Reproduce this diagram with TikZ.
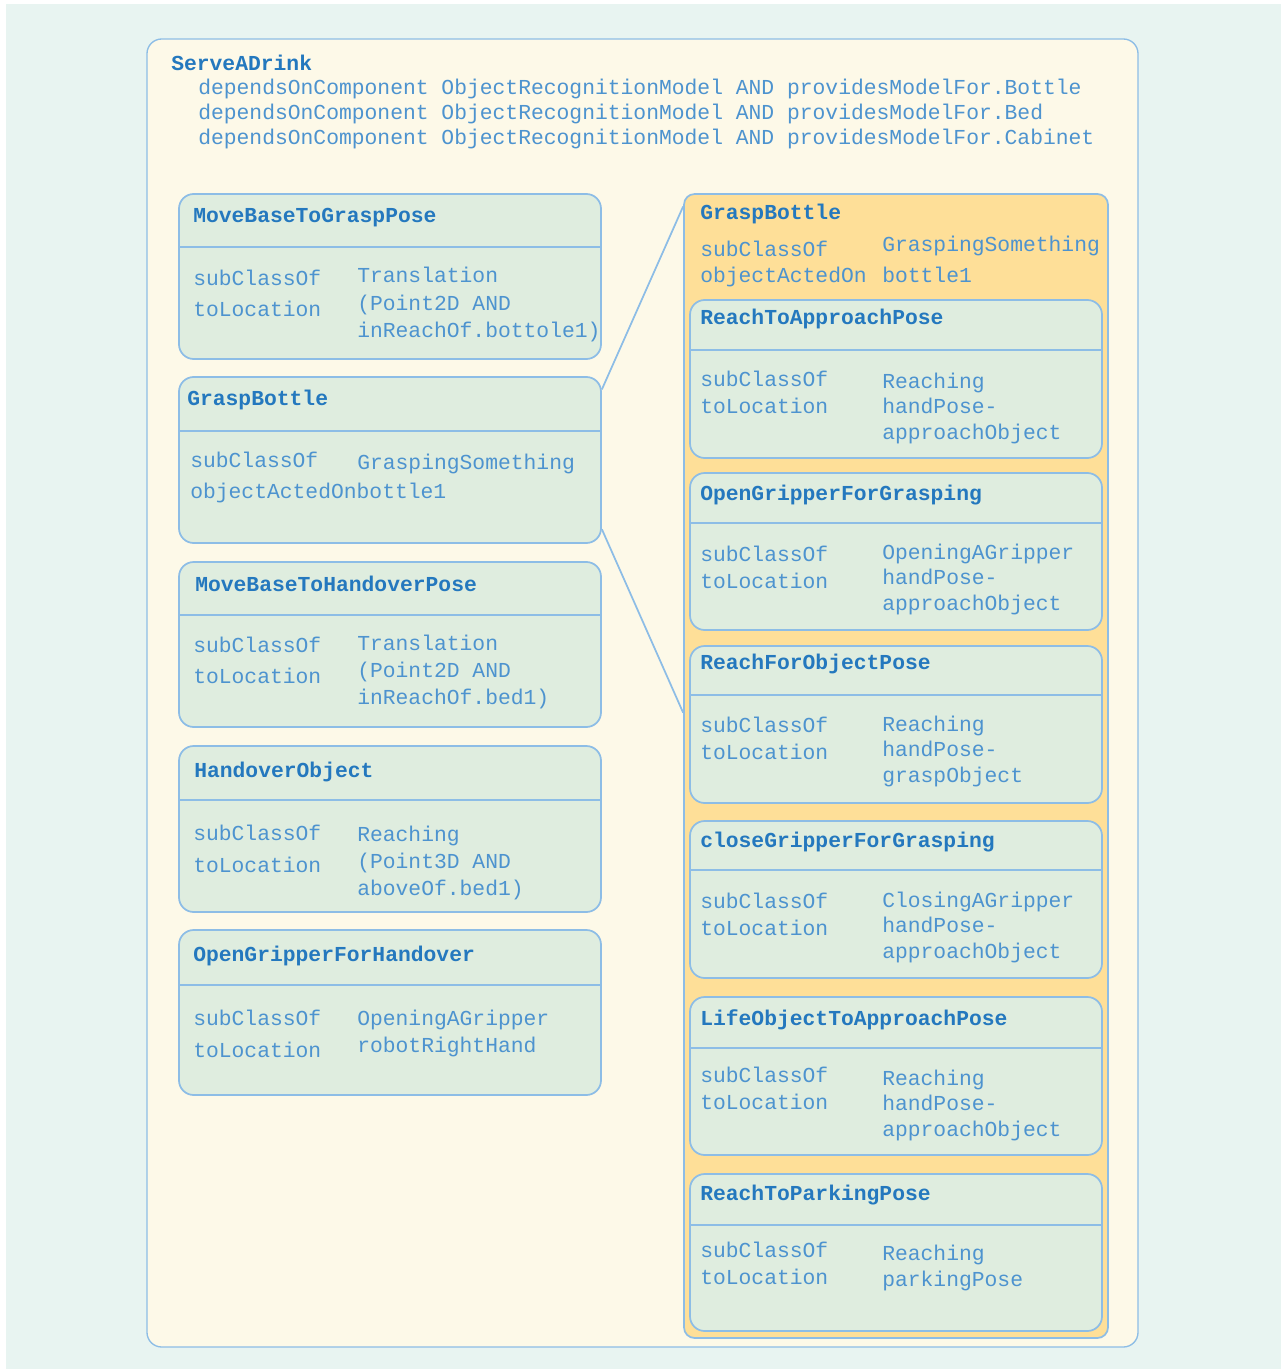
\documentclass[tikz,border=0pt]{standalone}
\usepackage{xcolor}
\usepackage{fontspec}
\setmonofont{Liberation Mono}
\usepackage{tikz}
\usetikzlibrary{fit}

\definecolor{pagebg}{HTML}{E8F4F1}
\definecolor{cream}{HTML}{FDF9E8}
\definecolor{boxgreen}{HTML}{DFEDDF}
\definecolor{groupgold}{HTML}{FEDF98}
\definecolor{edgeblue}{HTML}{8DBDE6}
\definecolor{titleblue}{HTML}{2478BE}
\definecolor{textblue}{HTML}{4D93CF}

\begin{document}
\begin{tikzpicture}[
	  x=0.75pt, y=-0.75pt,
	  font=\ttfamily\fontsize{16}{19}\selectfont,
	  panel/.style={draw=edgeblue, line width=1pt, fill=cream, rounded corners=11pt},
	  cls/.style={
	    draw=edgeblue,
	    line width=1.3pt,
	    fill=boxgreen,
	    rounded corners=11pt,
	    inner sep=0pt
	  },
	  group/.style={draw=edgeblue, line width=1.3pt, fill=groupgold, rounded corners=8pt, inner sep=0pt},
	  divider/.style={edgeblue, line width=1.3pt},
	  ttl/.style={anchor=base west, inner sep=0pt, text=titleblue, font=\ttfamily\bfseries\fontsize{16}{19}\selectfont},
	  prop/.style={anchor=base west, inner sep=0pt, text=textblue, align=left, font=\ttfamily\fontsize{16}{#1}\selectfont},
	  prop/.default=20pt,
	  link/.style={edgeblue, line width=1.3pt}
	]
	
	\useasboundingbox (0,0) rectangle (1281,1369);
	\fill[white] (0,0) rectangle (1281,1369);
	\fill[pagebg] (6,4) rectangle (1281,1369);
	
	% task (multi-line nodes sit on their last baseline)
	\node[panel, fit={(147,39) (1138,1347)}, inner sep=0pt] (task) {};
	\node[ttl] (task-name) at (171,71) {ServeADrink};
	\node[prop=18.75pt] (task-deps) at (198,145) {dependsOnComponent ObjectRecognitionModel AND providesModelFor.Bottle\\dependsOnComponent ObjectRecognitionModel AND providesModelFor.Bed\\dependsOnComponent ObjectRecognitionModel AND providesModelFor.Cabinet};
	
	% left column
	\node[cls, fit={(179,194) (601,359)}] (mbgp) {};
	\draw[divider] (179,247) -- (601,247);
	\node[ttl] (mbgp-name) at (193,223) {MoveBaseToGraspPose};
	\node[prop=23.25pt] (mbgp-keys) at (193,316) {subClassOf\\toLocation};
	\node[prop=20.25pt] (mbgp-vals) at (357,337) {Translation\\(Point2D AND\\inReachOf.bottole1)};
	
	\node[cls, fit={(179,377) (601,543)}] (gbl) {};
	\draw[divider] (179,431) -- (601,431);
	\node[ttl] (gbl-name) at (187,405) {GraspBottle};
	\node[prop=23.25pt] (gbl-keys) at (190,498) {subClassOf\\objectActedOnbottle1};
	\node[prop] (gbl-vals) at (357,469) {GraspingSomething};
	
	\node[cls, fit={(179,562) (601,727)}] (mbhp) {};
	\draw[divider] (179,615) -- (601,615);
	\node[ttl] (mbhp-name) at (195,591) {MoveBaseToHandoverPose};
	\node[prop=23.25pt] (mbhp-keys) at (193,683) {subClassOf\\toLocation};
	\node[prop=20.25pt] (mbhp-vals) at (357,704) {Translation\\(Point2D AND\\inReachOf.bed1)};
	
	\node[cls, fit={(179,746) (601,912)}] (hobj) {};
	\draw[divider] (179,800) -- (601,800);
	\node[ttl] (hobj-name) at (194,777) {HandoverObject};
	\node[prop=24pt] (hobj-keys) at (193,872) {subClassOf\\toLocation};
	\node[prop=20.25pt] (hobj-vals) at (357,895) {Reaching\\(Point3D AND\\aboveOf.bed1)};
	
	\node[cls, fit={(179,930) (601,1095)}] (ogh) {};
	\draw[divider] (179,985) -- (601,985);
	\node[ttl] (ogh-name) at (193,961) {OpenGripperForHandover};
	\node[prop=24pt] (ogh-keys) at (193,1057) {subClassOf\\toLocation};
	\node[prop=20.25pt] (ogh-vals) at (357,1052) {OpeningAGripper\\robotRightHand};
	
	% right column: GraspBottle expanded
	\node[group, fit={(684,194) (1108,1338)}] (gbr) {};
	\node[ttl] (gbr-name) at (700,220) {GraspBottle};
	\node[prop=20.25pt] (gbr-keys) at (700,283) {subClassOf\\objectActedOn};
	\node[prop=23.25pt] (gbr-vals) at (882,283) {GraspingSomething\\bottle1};
	
	\node[cls, fit={(690,300) (1102,458)}] (rtap) {};
	\draw[divider] (690,350) -- (1102,350);
	\node[ttl] (rtap-name) at (700,325) {ReachToApproachPose};
	\node[prop=19.9pt] (rtap-keys) at (700,413.5) {subClassOf\\toLocation};
	\node[prop=19.1pt] (rtap-vals) at (882,439) {Reaching\\handPose-\\approachObject};
	
	\node[cls, fit={(690,473) (1102,630)}] (ogg) {};
	\draw[divider] (690,523) -- (1102,523);
	\node[ttl] (ogg-name) at (700,500) {OpenGripperForGrasping};
	\node[prop=19.9pt] (ogg-keys) at (700,588.5) {subClassOf\\toLocation};
	\node[prop=19.1pt] (ogg-vals) at (882,610) {OpeningAGripper\\handPose-\\approachObject};
	
	\node[cls, fit={(690,646) (1102,803)}] (rfop) {};
	\draw[divider] (690,695) -- (1102,695);
	\node[ttl] (rfop-name) at (700,669) {ReachForObjectPose};
	\node[prop=19.9pt] (rfop-keys) at (700,759.5) {subClassOf\\toLocation};
	\node[prop=19.1pt] (rfop-vals) at (882,782) {Reaching\\handPose-\\graspObject};
	
	\node[cls, fit={(690,821) (1102,978)}] (cgg) {};
	\draw[divider] (690,870) -- (1102,870);
	\node[ttl] (cgg-name) at (700,847) {closeGripperForGrasping};
	\node[prop=19.9pt] (cgg-keys) at (700,935.5) {subClassOf\\toLocation};
	\node[prop=19.1pt] (cgg-vals) at (882,958) {ClosingAGripper\\handPose-\\approachObject};
	
	\node[cls, fit={(690,997) (1102,1155)}] (loap) {};
	\draw[divider] (690,1048) -- (1102,1048);
	\node[ttl] (loap-name) at (700,1025) {LifeObjectToApproachPose};
	\node[prop=19.9pt] (loap-keys) at (700,1109.5) {subClassOf\\toLocation};
	\node[prop=19.1pt] (loap-vals) at (882,1136) {Reaching\\handPose-\\approachObject};
	
	\node[cls, fit={(690,1174) (1102,1331)}] (rtpp) {};
	\draw[divider] (690,1225) -- (1102,1225);
	\node[ttl] (rtpp-name) at (700,1200) {ReachToParkingPose};
	\node[prop=20.25pt] (rtpp-keys) at (700,1284) {subClassOf\\toLocation};
	\node[prop=19.5pt] (rtpp-vals) at (882,1286) {Reaching\\parkingPose};
	
	% expansion lines
	\draw[link] ([yshift=-10pt]gbl.north east) -- ([yshift=-10pt]gbr.north west);
	\draw[link] ([yshift=11pt]gbl.south east) -- ([yshift=40pt]gbr.west);
	
	\end{tikzpicture}
\end{document}
